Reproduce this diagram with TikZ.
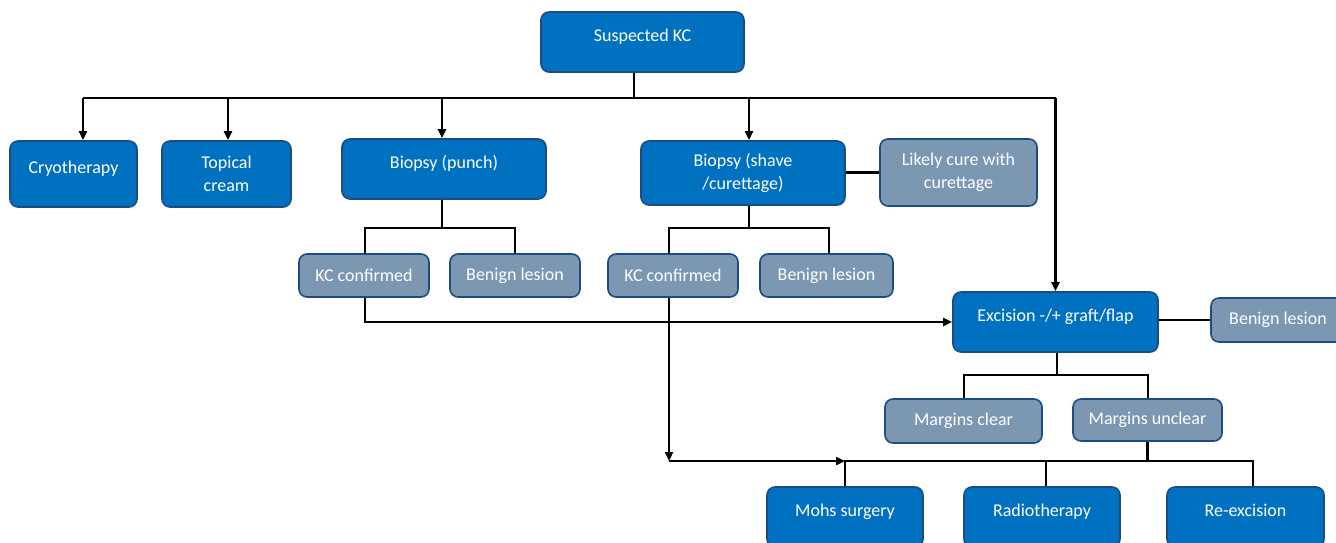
\documentclass[tikz,border=0pt]{standalone}
\usepackage{fontspec}
\setmainfont{Carlito}
\usetikzlibrary{arrows.meta}
\definecolor{boxblue}{RGB}{0,112,192}
\definecolor{boxgrey}{RGB}{124,151,177}
\definecolor{boxedge}{RGB}{28,76,130}
\begin{document}
\begin{tikzpicture}[x=1pt,y=-1pt,
    box/.style={draw=boxedge, line width=1.6pt, rounded corners=8pt, text=white, align=center, inner sep=0pt, font=\fontsize{18}{23}\selectfont},
    bluebox/.style={box, fill=boxblue},
    greybox/.style={box, fill=boxgrey},
    raised/.style={text height=9pt, text depth=10pt},
    wh/.style 2 args={minimum width=#1pt, minimum height=#2pt},
    link/.style={black, line width=2.2pt},
    arr/.style={-{Triangle[length=9pt,width=8pt]}}]
        \useasboundingbox (0,0) rectangle (1336,542);
        \clip (0,0) rectangle (1336,542);
        \node[bluebox, raised, wh={203}{60}] (kc) at (642.5,42) {Suspected KC};
        \node[bluebox, raised, wh={127}{66}] (cryo) at (73.5,174) {Cryotherapy};
        \node[bluebox, wh={129}{66}] (topical) at (226.5,174) {Topical\\cream};
        \node[bluebox, raised, wh={204}{60}] (punch) at (444,169) {Biopsy (punch)};
        \node[bluebox, wh={204}{64}] (shave) at (743,173) {Biopsy (shave\\/curettage)};
        \node[greybox, wh={157}{67}] (likely) at (958.5,172.5) {Likely cure with\\curettage};
        \node[greybox, wh={130}{43}] (kc1) at (364,275.5) {KC confirmed};
        \node[greybox, wh={130}{43}] (ben1) at (515,275.5) {Benign lesion};
        \node[greybox, wh={130}{43}] (kc2) at (673,275.5) {KC confirmed};
        \node[greybox, wh={133}{43}] (ben2) at (826.5,275.5) {Benign lesion};
        \node[bluebox, raised, wh={205}{60}] (exc) at (1055.5,322) {Excision -/+ graft/flap};
        \node[greybox, wh={134}{44}] (ben3) at (1278,320) {Benign lesion};
        \node[greybox, wh={157}{44}] (mclear) at (963.5,421) {Margins clear};
        \node[greybox, wh={149}{42}] (munclear) at (1147.5,420) {Margins unclear};
        \node[bluebox, raised, wh={156}{60}] (mohs) at (845,517) {Mohs surgery};
        \node[bluebox, raised, wh={156}{60}] (radio) at (1042,517) {Radiotherapy};
        \node[bluebox, raised, wh={157}{60}] (reexc) at (1245.5,517) {Re-excision};

        \coordinate (t0) at (634,98);
        \coordinate (t1) at (83,98);
        \coordinate (t2) at (228,98);
        \coordinate (t3) at (442,98);
        \coordinate (t4) at (749,98);
        \coordinate (t5) at (1055.5,98);
        \draw[link] (kc.south -| t0) -- (t0);
        \draw[link] (t1) -- (t5);
        \foreach \c/\n in {t1/cryo, t2/topical, t3/punch, t4/shave, t5/exc}
            \draw[link, arr] (\c) -- (\c |- \n.north);
        \draw[link] (shave.east |- likely.west) -- (likely.west);

        \coordinate (p0) at (442,228);
        \coordinate (p1) at (365,228);
        \coordinate (p2) at (515,228);
        \draw[link] (punch.south -| p0) -- (p0);
        \draw[link] (p1 |- kc1.north) -- (p1) -- (p2) -- (p2 |- ben1.north);
        \coordinate (s0) at (749,228);
        \coordinate (s1) at (669,228);
        \coordinate (s2) at (829,228);
        \draw[link] (shave.south -| s0) -- (s0);
        \draw[link] (s1 |- kc2.north) -- (s1) -- (s2) -- (s2 |- ben2.north);

        \draw[link, arr] (kc1.south -| p1) |- (exc.west);
        \coordinate (d0) at (669,461);
        \draw[link, arr] (kc2.south -| d0) -- (d0);
        \draw[link, arr] (d0) -- (mohs.north |- d0);

        \draw[link] (ben3.west -| exc.east) -- (ben3.west);
        \coordinate (e0) at (1057,375);
        \coordinate (e1) at (964,375);
        \coordinate (e2) at (1148,375);
        \draw[link] (exc.south -| e0) -- (e0);
        \draw[link] (e1 |- mclear.north) -- (e1) -- (e2) -- (e2 |- munclear.north);
        \draw[link] (munclear.south) -- (munclear.south |- d0);

        \coordinate (u1) at (1046,461);
        \coordinate (u2) at (1253,461);
        \draw[link] (mohs.north) -- (mohs.north |- d0) -- (u2) -- (u2 |- reexc.north);
        \draw[link] (u1) -- (u1 |- radio.north);
\end{tikzpicture}
\end{document}
